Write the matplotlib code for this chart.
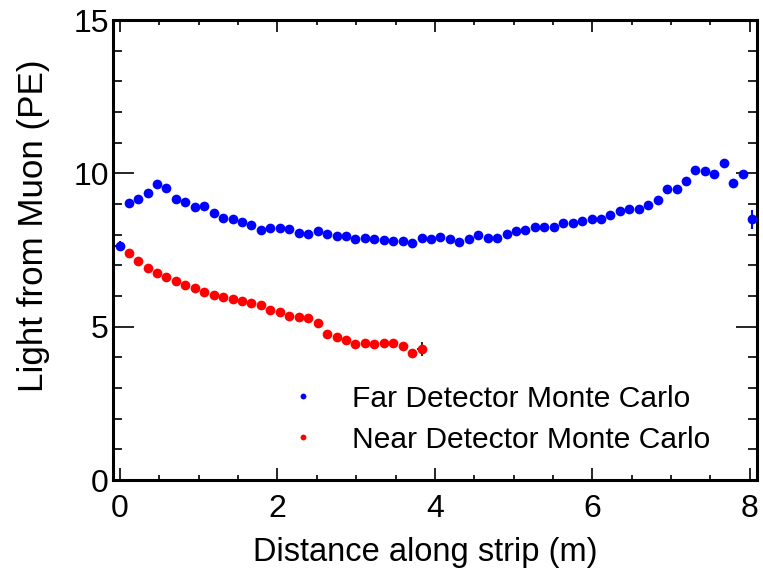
import matplotlib
matplotlib.use("Agg")
import matplotlib.pyplot as plt
from matplotlib.ticker import MultipleLocator

plt.rcParams['font.family'] = ['Liberation Sans', 'DejaVu Sans']

# Far detector: light yield vs. position along the strip
far_x = [0.00,
         0.11, 0.23, 0.35, 0.47, 0.59, 0.71, 0.83, 0.95, 1.07, 1.19,
         1.31, 1.43, 1.55, 1.67, 1.79, 1.91, 2.03, 2.15, 2.27, 2.39,
         2.51, 2.63, 2.75, 2.87, 2.99, 3.11, 3.23, 3.35, 3.47, 3.59,
         3.71, 3.83, 3.95, 4.07, 4.19, 4.31, 4.43, 4.55, 4.67, 4.79,
         4.91, 5.03, 5.15, 5.27, 5.39, 5.51, 5.63, 5.75, 5.87, 5.99,
         6.11, 6.23, 6.35, 6.47, 6.59, 6.71, 6.83, 6.95, 7.07, 7.19,
         7.31, 7.43, 7.55, 7.67, 7.79, 7.91, 8.03]
far_pe = [7.65,
          9.03, 9.17, 9.37, 9.64, 9.51, 9.18, 9.08, 8.90, 8.93, 8.72,
          8.56, 8.51, 8.42, 8.31, 8.15, 8.21, 8.21, 8.18, 8.06, 8.04,
          8.12, 8.01, 7.96, 7.96, 7.87, 7.89, 7.86, 7.83, 7.80, 7.81,
          7.72, 7.90, 7.85, 7.93, 7.85, 7.76, 7.85, 7.98, 7.91, 7.91,
          8.02, 8.11, 8.15, 8.26, 8.24, 8.26, 8.37, 8.39, 8.46, 8.51,
          8.51, 8.63, 8.77, 8.84, 8.84, 8.97, 9.15, 9.50, 9.48, 9.76,
          10.11, 10.09, 9.98, 10.33, 9.69, 9.97, 8.50]

# Near detector: light yield vs. position along the strip
near_x = [0.11, 0.23, 0.35, 0.47, 0.59, 0.71, 0.83, 0.95, 1.07, 1.19,
          1.31, 1.43, 1.55, 1.67, 1.79, 1.91, 2.03, 2.15, 2.27, 2.39,
          2.51, 2.63, 2.75, 2.87, 2.99, 3.11, 3.23, 3.35, 3.47, 3.59,
          3.71, 3.83]
near_pe = [7.39, 7.15, 6.93, 6.74, 6.61, 6.50, 6.37, 6.26, 6.15, 6.04,
           5.98, 5.91, 5.84, 5.76, 5.70, 5.54, 5.47, 5.35, 5.33, 5.28,
           5.11, 4.75, 4.68, 4.57, 4.43, 4.47, 4.43, 4.48, 4.46, 4.38,
           4.13, 4.27]

# End-point uncertainties (x, y, xerr, yerr)
far_err = [(0.00, 7.65, 0.06, 0.15), (8.03, 8.50, 0.0, 0.32)]
near_err = [(3.83, 4.27, 0.06, 0.22)]

fig = plt.figure(figsize=(7.63, 5.73), dpi=100)
ax = fig.add_axes([0.148, 0.162, 0.844, 0.803])

for (x, y, xe, ye) in far_err:
    ax.errorbar([x], [y], xerr=[xe], yerr=[ye], fmt='none', ecolor='blue',
                elinewidth=1.5, capsize=0, zorder=2)
for (x, y, xe, ye) in near_err:
    ax.errorbar([x], [y], xerr=[xe], yerr=[ye], fmt='none', ecolor='black',
                elinewidth=1.2, capsize=0, zorder=2)

ax.plot(far_x, far_pe, linestyle='none', marker='o', markersize=7,
        color='#0000ff', markeredgewidth=0, label='Far Detector Monte Carlo', zorder=3)
ax.plot(near_x, near_pe, linestyle='none', marker='o', markersize=7,
        color='#ff0000', markeredgewidth=0, label='Near Detector Monte Carlo', zorder=3)

ax.set_xlim(-0.09, 8.09)
ax.set_ylim(0, 15)
ax.xaxis.set_major_locator(MultipleLocator(2))
ax.xaxis.set_minor_locator(MultipleLocator(0.5))
ax.yaxis.set_major_locator(MultipleLocator(5))
ax.yaxis.set_minor_locator(MultipleLocator(1))

for s in ax.spines.values():
    s.set_linewidth(2.2)

ax.tick_params(axis='both', which='both', direction='in', top=True, right=True,
               labelsize=23, width=1.2, colors='black')
ax.tick_params(axis='x', which='major', length=8.6, pad=10)
ax.tick_params(axis='x', which='minor', length=3.6)
ax.tick_params(axis='y', which='major', length=15, pad=3)
ax.tick_params(axis='y', which='minor', length=6.5)

ax.set_xlabel('Distance along strip (m)', fontsize=23.5)
ax.set_ylabel('Light from Muon (PE)', fontsize=25.2)
ax.xaxis.set_label_coords(0.4845, -0.123)
ax.yaxis.set_label_coords(-0.098, 0.552)

ax.legend(loc='upper left', bbox_to_anchor=(0.253, 0.233), frameon=False,
          fontsize=21.6, markerscale=0.6, handlelength=1.0, handletextpad=1.13,
          labelspacing=0.42, borderaxespad=0)

fig.savefig('out.png', dpi=100)
